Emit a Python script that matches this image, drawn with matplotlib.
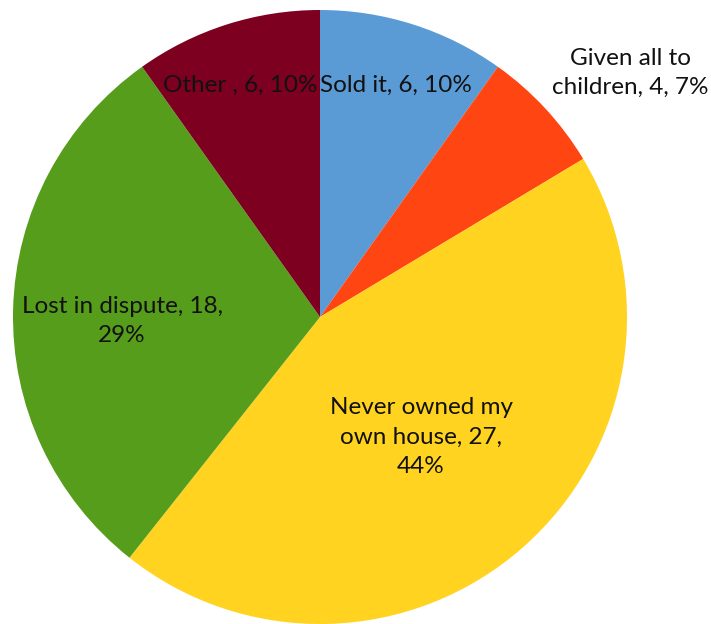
import matplotlib
matplotlib.use("Agg")
import matplotlib.pyplot as plt
import numpy as np

categories = ["Sold it", "Given all to children", "Never owned my own house", "Lost in dispute", "Other "]
values = [6, 4, 27, 18, 6]
percents = [10, 7, 44, 29, 10]
label_texts = ["Sold it, 6, 10%", "Given all to\nchildren, 4, 7%", "Never owned my\nown house, 27,\n44%",
               "Lost in dispute, 18,\n29%", "Other , 6, 10%"]
colors = ["#5B9BD5", "#FF4512", "#FFD320", "#579D1C", "#7E0021"]

W, H = 711, 624
fig = plt.figure(figsize=(W / 100, H / 100), dpi=100)
cx, cy, R = 320, 317, 307
ax = fig.add_axes([(cx - R) / W, (H - cy - R) / H, 2 * R / W, 2 * R / H])
ax.pie(values, colors=colors, startangle=90, counterclock=False, radius=1.0,
       wedgeprops=dict(linewidth=0))
ax.set_xlim(-1, 1)
ax.set_ylim(-1, 1)
ax.set_aspect("equal")
ax.axis("off")

# label centres in pixels (layout)
label_px = [(396, 85), (630, 73), (421, 437), (122, 321), (240, 85)]
for txt, (px, py) in zip(label_texts, label_px):
    x = (px - cx) / R
    y = (cy - py) / R
    ax.text(x, y, txt, ha="center", va="center", fontsize=17.5, family="Lato",
            color="#111111", linespacing=1.5, clip_on=False)

fig.savefig("out.png", dpi=100)
